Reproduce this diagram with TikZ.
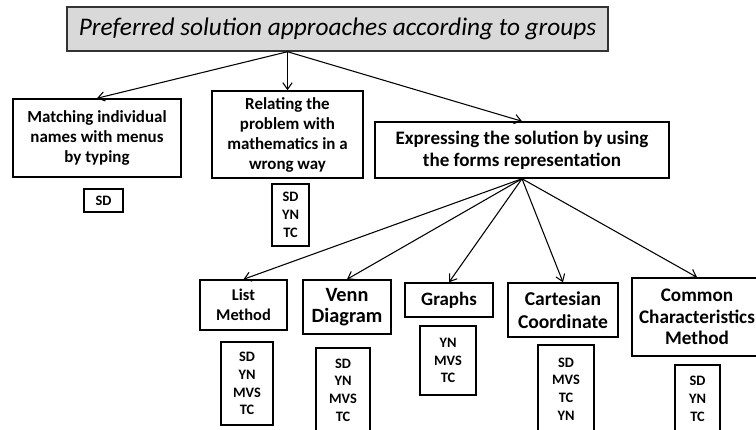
\documentclass[tikz,border=0pt]{standalone}
\usepackage{fontspec}
\setmainfont{Carlito}
\usetikzlibrary{arrows.meta}
\def\px{0.75pt}
\tikzset{
  box/.style={draw=black, line width=1.1pt, inner sep=0pt, align=center, font=\bfseries},
  arr/.style={line width=0.8pt, -{Straight Barb[length=5pt,width=7pt,line width=0.8pt]}},
  fa/.style={font=\fontsize{12.7}{15}\selectfont\bfseries},
  fb/.style={font=\fontsize{15.2}{15.5}\selectfont\bfseries},
  fc/.style={font=\fontsize{10.8}{13.3}\selectfont\bfseries},
}
\begin{document}
\begin{tikzpicture}[x=0.75pt,y=-0.75pt]
\clip (0,0) rectangle (756,429);
\fill[white] (0,0) rectangle (756,429);
% title
\node[draw=black!80, line width=1.1pt, fill=black!15, minimum width=541*\px, minimum height=44*\px, inner sep=0pt,
      font=\fontsize{19}{21}\selectfont\itshape] (title) at (337.5,29) {Preferred solution approaches according to groups};
% first level
\node[box, fa, minimum width=168*\px, minimum height=78*\px] (match) at (97,138) {Matching individual\\names with menus\\by typing};
\node[box, fa, minimum width=151*\px, minimum height=87*\px] (relate) at (287.5,134.5) {Relating the\\problem with\\mathematics in a\\wrong way};
\node[box, font=\fontsize{14.3}{16.5}\selectfont\bfseries, minimum width=294*\px, minimum height=56*\px] (expr) at (522,150) {Expressing the solution by using\\the forms representation};
\node[box, fc, minimum width=39*\px, minimum height=23*\px] (sda) at (103.5,200.5) {SD};
\node[box, fc, minimum width=37*\px, minimum height=62*\px] (sdb) at (290.5,215) {SD\\YN\\TC};
% second level
\node[box, font=\fontsize{12.3}{15}\selectfont\bfseries, minimum width=87*\px, minimum height=50*\px] (list) at (243.5,305) {List\\Method};
\node[box, fb, minimum width=88*\px, minimum height=54*\px] (venn) at (347,307) {Venn\\Diagram};
\node[box, font=\fontsize{14.2}{16}\selectfont\bfseries, minimum width=88*\px, minimum height=34*\px] (graphs) at (449,300) {Graphs};
\node[box, font=\fontsize{14.7}{17.3}\selectfont\bfseries, minimum width=110*\px, minimum height=54*\px] (cart) at (563,310) {Cartesian\\Coordinate};
\node[box, font=\fontsize{14.4}{16.3}\selectfont\bfseries, minimum width=130*\px, minimum height=78*\px] (common) at (697,317) {Common\\Characteristics\\Method};
% code lists
\node[box, fc, minimum width=52*\px, minimum height=83*\px] (ca) at (247,383.5) {SD\\YN\\MVS\\TC};
\node[box, fc, minimum width=54*\px, minimum height=84*\px] (cb) at (343,390) {SD\\YN\\MVS\\TC};
\node[box, fc, minimum width=56*\px, minimum height=69*\px] (cc) at (448,360.5) {YN\\MVS\\TC};
\node[box, fc, minimum width=56*\px, minimum height=88*\px] (cd) at (566,389) {SD\\MVS\\TC\\YN};
\node[box, fc, minimum width=45*\px, minimum height=68*\px] (ce) at (697.5,399) {SD\\YN\\TC};
% connectors
\coordinate (t0) at (title.south -| relate.north);
\draw[arr] (t0) -- (match.north);
\draw[arr] (t0) -- (relate.north);
\draw[arr] (t0) -- (expr.north);
\draw[arr] (expr.south) -- (list.north);
\draw[arr] (expr.south) -- (venn.north);
\draw[arr] (expr.south) -- (graphs.north);
\draw[arr] (expr.south) -- (cart.north);
\draw[arr] (expr.south) -- (common.north);
\end{tikzpicture}
\end{document}
